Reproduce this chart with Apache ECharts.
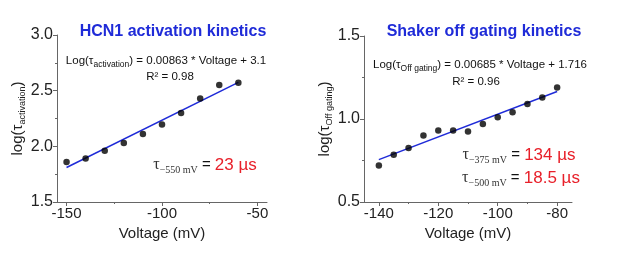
<!DOCTYPE html>
<html lang="en">
  <head>
    <meta charset="UTF-8" />
    <title>kinetics</title>
    <script src="https://cdn.jsdelivr.net/npm/echarts@6/dist/echarts.min.js"></script>
    <style>
      html, body { margin: 0; padding: 0; background: #fff; }
      #main { width: 617px; height: 255px; }
    </style>
  </head>
  <body>
    <div id="main"></div>
    <script>
      // HCN1 activation
      var hcnVoltage = [-150, -140, -130, -120, -110, -100, -90, -80, -70, -60];
      var hcnLogTau = [1.86, 1.89, 1.96, 2.03, 2.11, 2.195, 2.30, 2.43, 2.55, 2.57];
      var hcnFitX = [-150, -60];
      var hcnFitY = [1.81, 2.575];
      var hcnXTicks = [-150, -100, -50];
      var hcnXMinor = [-125, -75];

      // Shaker off gating
      var shVoltage = [-140, -135, -130, -125, -120, -115, -110, -105, -100, -95, -90, -85, -80];
      var shLogTau = [0.72, 0.785, 0.825, 0.90, 0.93, 0.93, 0.925, 0.97, 1.01, 1.04, 1.09, 1.13, 1.19];
      var shFitX = [-140, -80];
      var shFitY = [0.755, 1.166];
      var shXTicks = [-140, -120, -100, -80];
      var shXMinor = [-130, -110, -90];

      var blue = "#1f2bd8";
      var red = "#e8202a";
      var font = "Liberation Sans";
      var serif = "Liberation Serif";

      function pairs(xs, ys) {
        return xs.map(function(x, i) {
          return [x, ys[i]];
        });
      }

      function xAxes(grid, min, max, ticks, minor) {
        return [
          {
            gridIndex: grid,
            type: "value",
            min: min,
            max: max,
            name: "Voltage (mV)",
            nameLocation: "middle",
            nameGap: 23,
            nameTextStyle: { fontFamily: font, fontSize: 15, color: "#222" },
            axisLine: { lineStyle: { color: "#666", width: 1 } },
            axisTick: { customValues: ticks, length: 4, lineStyle: { color: "#666" } },
            axisLabel: { customValues: ticks, fontFamily: font, fontSize: 15, color: "#222", margin: 4 },
            splitLine: { show: false }
          },
          {
            gridIndex: grid,
            type: "value",
            min: min,
            max: max,
            position: "bottom",
            axisLine: { show: false },
            axisTick: { customValues: minor, length: 2, lineStyle: { color: "#666" } },
            axisLabel: { show: false },
            splitLine: { show: false }
          }
        ];
      }

      function yAxis(grid, min, max, sub) {
        return {
          gridIndex: grid,
          type: "value",
          min: min,
          max: max,
          interval: 0.5,
          name: "{a|log(τ}{s|" + sub + "}{a|)}",
          nameLocation: "middle",
          nameRotate: 90,
          nameGap: 27,
          nameTextStyle: {
            rich: {
              a: { fontFamily: font, fontSize: 15, color: "#222", lineHeight: 17 },
              s: { fontFamily: font, fontSize: 9, color: "#222", lineHeight: 9, verticalAlign: "bottom" }
            }
          },
          axisLine: { show: true, lineStyle: { color: "#666", width: 1 } },
          axisTick: { show: true, length: 4, lineStyle: { color: "#666" } },
          minorTick: { show: true, splitNumber: 2, length: 2, lineStyle: { color: "#666" } },
          axisLabel: {
            fontFamily: font,
            fontSize: 16,
            color: "#222",
            margin: 4,
            formatter: function(v) {
              return v.toFixed(1);
            }
          },
          splitLine: { show: false }
        };
      }

      // graphic text uses zrender styles, so colour is "fill"
      var eqRich = {
        a: { fontFamily: font, fontSize: 11.5, fill: "#111", lineHeight: 16 },
        s: { fontFamily: font, fontSize: 8.5, fill: "#111", lineHeight: 9, verticalAlign: "bottom" }
      };
      var tauRich = {
        t: { fontFamily: serif, fontSize: 16, fill: "#333", lineHeight: 20 },
        s: { fontFamily: serif, fontSize: 10, fill: "#333", lineHeight: 10, verticalAlign: "bottom" },
        e: { fontFamily: font, fontSize: 15, fill: "#111", lineHeight: 20 },
        r: { fontFamily: font, fontSize: 17, fill: red, lineHeight: 20 }
      };

      function label(x, y, text, rich) {
        return {
          type: "text",
          x: x,
          y: y,
          style: { text: text, rich: rich, align: "center", verticalAlign: "middle" }
        };
      }

      var myChart = echarts.init(document.getElementById("main"));
      var option = {
        backgroundColor: "#fff",
        animation: false,
        title: [
          {
            text: "HCN1 activation kinetics",
            left: 168,
            top: 19,
            textAlign: "center",
            textStyle: { fontFamily: font, fontSize: 16, fontWeight: "bold", color: blue }
          },
          {
            text: "Shaker off gating kinetics",
            left: 479,
            top: 19,
            textAlign: "center",
            textStyle: { fontFamily: font, fontSize: 16, fontWeight: "bold", color: blue }
          }
        ],
        grid: [
          { left: 57, top: 35, width: 210, height: 167 },
          { left: 364, top: 36, width: 208, height: 166 }
        ],
        xAxis: xAxes(0, -155, -45, hcnXTicks, hcnXMinor).concat(
          xAxes(1, -145, -75, shXTicks, shXMinor)
        ),
        yAxis: [yAxis(0, 1.5, 3.0, "activation"), yAxis(1, 0.5, 1.5, "Off gating")],
        series: [
          {
            type: "line",
            xAxisIndex: 0,
            yAxisIndex: 0,
            data: pairs(hcnFitX, hcnFitY),
            showSymbol: false,
            lineStyle: { color: blue, width: 1.5 },
            z: 2
          },
          {
            type: "scatter",
            xAxisIndex: 0,
            yAxisIndex: 0,
            data: pairs(hcnVoltage, hcnLogTau),
            symbolSize: 6.5,
            itemStyle: { color: "#000" },
            z: 3
          },
          {
            type: "line",
            xAxisIndex: 2,
            yAxisIndex: 1,
            data: pairs(shFitX, shFitY),
            showSymbol: false,
            lineStyle: { color: blue, width: 1.5 },
            z: 2
          },
          {
            type: "scatter",
            xAxisIndex: 2,
            yAxisIndex: 1,
            data: pairs(shVoltage, shLogTau),
            symbolSize: 6.5,
            itemStyle: { color: "#000" },
            z: 3
          }
        ],
        graphic: [
          label(166, 61, "{a|Log(τ}{s|activation}{a|) = 0.00863 * Voltage + 3.1}", eqRich),
          label(170, 77, "{a|R² = 0.98}", eqRich),
          label(205, 165, "{t|τ}{s|−550 mV}{e| = }{r|23 µs}", tauRich),
          label(480, 65, "{a|Log(τ}{s|Off gating}{a|) = 0.00685 * Voltage + 1.716}", eqRich),
          label(476, 82, "{a|R² = 0.96}", eqRich),
          label(519, 155, "{t|τ}{s|−375 mV}{e| = }{r|134 µs}", tauRich),
          label(521, 178, "{t|τ}{s|−500 mV}{e| = }{r|18.5 µs}", tauRich)
        ]
      };
      myChart.setOption(option);
    </script>
  </body>
</html>
